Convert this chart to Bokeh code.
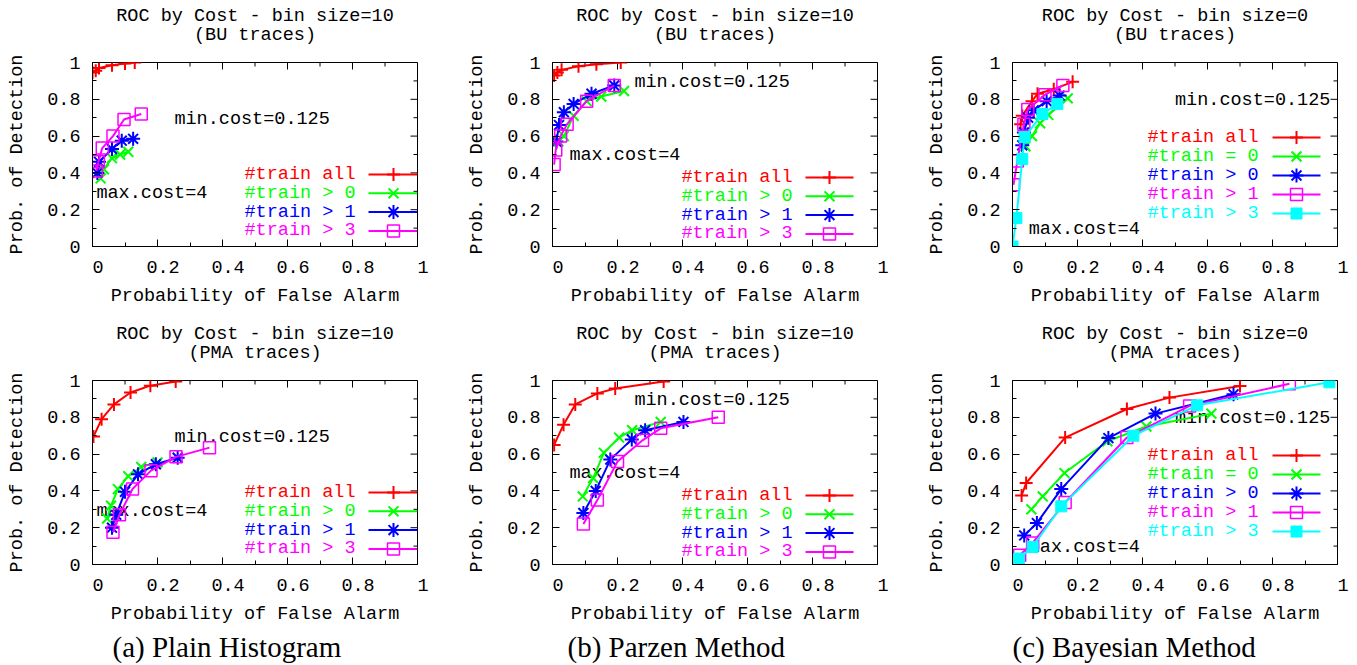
from bokeh.plotting import figure
from bokeh.layouts import column, row
from bokeh.models import Range1d, FixedTicker, CustomJSTickFormatter, Title, ColumnDataSource
from bokeh.core.properties import value
from bokeh.embed import file_html
from bokeh.resources import INLINE

# ---------------- data ----------------
# (a) Plain Histogram, BU traces
a_bu_all_x = [0.0, 0.01, 0.02, 0.06, 0.10, 0.13]
a_bu_all_y = [0.945, 0.955, 0.97, 0.985, 0.995, 1.0]
a_bu_gt0_x = [0.025, 0.035, 0.06, 0.085, 0.11]
a_bu_gt0_y = [0.37, 0.42, 0.48, 0.50, 0.515]
a_bu_gt1_x = [0.015, 0.02, 0.06, 0.09, 0.125]
a_bu_gt1_y = [0.40, 0.46, 0.53, 0.575, 0.585]
a_bu_gt3_x = [0.012, 0.018, 0.03, 0.063, 0.097, 0.15]
a_bu_gt3_y = [0.41, 0.46, 0.535, 0.60, 0.69, 0.72]
# (a) Plain Histogram, PMA traces
a_pma_all_x = [0.003, 0.028, 0.066, 0.117, 0.178, 0.256]
a_pma_all_y = [0.695, 0.79, 0.87, 0.935, 0.972, 0.995]
a_pma_gt0_x = [0.045, 0.057, 0.078, 0.11, 0.15, 0.2]
a_pma_gt0_y = [0.25, 0.32, 0.41, 0.48, 0.53, 0.555]
a_pma_gt1_x = [0.06, 0.073, 0.1, 0.14, 0.195, 0.262]
a_pma_gt1_y = [0.20, 0.27, 0.395, 0.49, 0.545, 0.58]
a_pma_gt3_x = [0.063, 0.083, 0.123, 0.18, 0.257, 0.36]
a_pma_gt3_y = [0.175, 0.27, 0.41, 0.51, 0.585, 0.635]
# (b) Parzen Method, BU traces
b_bu_all_x = [0.005, 0.015, 0.028, 0.08, 0.135, 0.21]
b_bu_all_y = [0.93, 0.945, 0.96, 0.98, 0.99, 1.0]
b_bu_gt0_x = [0.018, 0.035, 0.065, 0.105, 0.15, 0.22]
b_bu_gt0_y = [0.57, 0.60, 0.71, 0.79, 0.815, 0.845]
b_bu_gt1_x = [0.012, 0.02, 0.035, 0.065, 0.12, 0.19]
b_bu_gt1_y = [0.57, 0.66, 0.73, 0.775, 0.83, 0.875]
b_bu_gt3_x = [0.005, 0.01, 0.025, 0.045, 0.105, 0.19]
b_bu_gt3_y = [0.445, 0.525, 0.60, 0.665, 0.79, 0.875]
# (b) Parzen Method, PMA traces
b_pma_all_x = [0.005, 0.034, 0.07, 0.138, 0.193, 0.342]
b_pma_all_y = [0.65, 0.76, 0.87, 0.93, 0.957, 0.995]
b_pma_gt0_x = [0.093, 0.125, 0.158, 0.205, 0.245, 0.333]
b_pma_gt0_y = [0.37, 0.47, 0.607, 0.69, 0.73, 0.775]
b_pma_gt1_x = [0.095, 0.133, 0.178, 0.244, 0.285, 0.403]
b_pma_gt1_y = [0.28, 0.40, 0.57, 0.68, 0.73, 0.775]
b_pma_gt3_x = [0.095, 0.138, 0.2, 0.277, 0.333, 0.51]
b_pma_gt3_y = [0.22, 0.35, 0.56, 0.675, 0.74, 0.80]
# (c) Bayesian Method, BU traces
c_bu_all_x = [0.025, 0.03, 0.06, 0.077, 0.127, 0.185]
c_bu_all_y = [0.665, 0.71, 0.79, 0.83, 0.855, 0.895]
c_bu_eq0_x = [0.04, 0.06, 0.085, 0.11, 0.17]
c_bu_eq0_y = [0.545, 0.60, 0.67, 0.715, 0.805]
c_bu_gt0_x = [0.03, 0.035, 0.048, 0.065, 0.105, 0.145]
c_bu_gt0_y = [0.55, 0.62, 0.70, 0.74, 0.79, 0.82]
c_bu_gt1_x = [0.003, 0.015, 0.035, 0.047, 0.1, 0.155]
c_bu_gt1_y = [0.335, 0.465, 0.665, 0.745, 0.825, 0.875]
c_bu_gt3_x = [0.0, 0.012, 0.03, 0.037, 0.092, 0.138]
c_bu_gt3_y = [0.0, 0.155, 0.475, 0.595, 0.72, 0.775]
# (c) Bayesian Method, PMA traces
c_pma_all_x = [0.028, 0.042, 0.162, 0.352, 0.483, 0.70]
c_pma_all_y = [0.375, 0.443, 0.69, 0.845, 0.907, 0.97]
c_pma_eq0_x = [0.058, 0.093, 0.16, 0.292, 0.412, 0.612]
c_pma_eq0_y = [0.30, 0.37, 0.497, 0.67, 0.75, 0.82]
c_pma_gt0_x = [0.036, 0.075, 0.15, 0.295, 0.44, 0.68]
c_pma_gt0_y = [0.158, 0.225, 0.41, 0.687, 0.82, 0.925]
c_pma_gt1_x = [0.022, 0.062, 0.162, 0.352, 0.545, 0.852]
c_pma_gt1_y = [0.05, 0.117, 0.337, 0.69, 0.862, 0.982]
c_pma_gt3_x = [0.02, 0.062, 0.15, 0.372, 0.568, 0.975]
c_pma_gt3_y = [0.032, 0.095, 0.316, 0.70, 0.865, 0.99]

legend_ab = ["#train all", "#train > 0", "#train > 1", "#train > 3"]
legend_c = ["#train all", "#train = 0", "#train > 0", "#train > 1", "#train > 3"]
titles = ["ROC by Cost - bin size=10", "ROC by Cost - bin size=10", "ROC by Cost - bin size=0"]
subtitles = ["(BU traces)", "(PMA traces)"]
captions = ["(a) Plain Histogram", "(b) Parzen Method", "(c) Bayesian Method"]
min_cost_text = "min.cost=0.125"
max_cost_text = "max.cost=4"
x_label = "Probability of False Alarm"
y_label = "Prob. of Detection"
major_ticks = [0, 0.2, 0.4, 0.6, 0.8, 1]
minor_ticks = [0.1, 0.3, 0.5, 0.7, 0.9]

# ---------------- styles / layout ----------------
MONO = "Liberation Mono"
SERIF = "Liberation Serif"
FS = "18.5px"
FRAME_W, FRAME_H = 325, 184
MAJ_LEN, MIN_LEN = 7, 4
STRIP_H = 52          # height of the title strip above each plot
PLOT_TOP = 10         # border above each frame inside the plot figure
TITLE_ROWS = (16, 35) # title line centres, pixels from the top of the strip region

STY_ALL = dict(color="#ff0000", marker="cross", size=13, lw=2, fill=None)
STY_X = dict(color="#00ff00", marker="x", size=14, lw=2, fill=None)
STY_STAR = dict(color="#0000ff", marker="asterisk", size=14, lw=2, fill=None)
STY_OSQ = dict(color="#ff00ff", marker="square", size=12, lw=1.5, fill=None)
STY_FSQ = dict(color="#00ffff", marker="square", size=11, lw=1, fill="#00ffff")
styles_ab = [STY_ALL, STY_X, STY_STAR, STY_OSQ]
styles_c = [STY_ALL, STY_X, STY_STAR, STY_OSQ, STY_FSQ]

# legend geometry (pixels from frame left / frame top)
LEG = {
    "a": dict(text_right=263, l0=276, l1=325, mk=301, row0=112, step=18.8),
    "b": dict(text_right=240, l0=253, l1=301, mk=277, row0=115, step=18.8),
    "c": dict(text_right=246, l0=260, l1=308, mk=284, row0=75, step=19.0),
}
# annotation text positions (data coords)
ANN = {
    "a": dict(mn=(0.252, 0.69), mx=(0.012, 0.29)),
    "b": dict(mn=(0.252, 0.89), mx=(0.052, 0.493)),
    "c": dict(mn=(0.50, 0.793), mx=(0.05, 0.09)),
}
CAP_OFFSET = {"a": 20, "b": 15, "c": 0}


def style_axis(ax, shift_labels):
    ax.ticker = FixedTicker(ticks=major_ticks, minor_ticks=minor_ticks)
    ax.major_tick_in = MAJ_LEN
    ax.major_tick_out = 0
    ax.minor_tick_in = MIN_LEN
    ax.minor_tick_out = 0
    ax.axis_line_color = "black"
    ax.major_tick_line_color = "black"
    ax.minor_tick_line_color = "black"
    if shift_labels:
        ax.formatter = CustomJSTickFormatter(code="return '\\u00a0' + tick.toString();")
    else:
        ax.formatter = CustomJSTickFormatter(code="return tick.toString();")
    ax.major_label_text_font = MONO
    ax.major_label_text_font_size = FS
    ax.major_label_text_color = "black"
    ax.axis_label_text_font = MONO
    ax.axis_label_text_font_size = FS
    ax.axis_label_text_font_style = "normal"
    ax.axis_label_text_color = "black"


def make_strip(width, left, title, subtitle):
    s = figure(frame_width=width, frame_height=STRIP_H, x_range=Range1d(0, width),
               y_range=Range1d(0, STRIP_H), output_backend="svg", toolbar_location=None,
               x_axis_location=None, y_axis_location=None, min_border=0)
    s.outline_line_color = None
    s.background_fill_color = "white"
    s.border_fill_color = "white"
    s.grid.visible = False
    cx = left + FRAME_W / 2
    s.text(x=[cx, cx], y=[STRIP_H - TITLE_ROWS[0], STRIP_H - TITLE_ROWS[1]],
           text=[title, subtitle], text_font=value(MONO), text_font_size=value(FS),
           text_color="black", text_align="center", text_baseline="middle")
    return s


def make_panel(col, series, styles, labels, left, right, bottom, caption=None):
    p = figure(frame_width=FRAME_W, frame_height=FRAME_H, x_range=Range1d(0, 1), y_range=Range1d(0, 1),
               output_backend="svg", toolbar_location=None,
               min_border_left=left, min_border_right=right,
               min_border_top=PLOT_TOP, min_border_bottom=bottom)
    p.background_fill_color = "white"
    p.border_fill_color = "white"
    p.outline_line_color = "black"
    p.outline_line_width = 1
    p.outline_line_alpha = 1
    p.xgrid.visible = False
    p.ygrid.visible = False

    style_axis(p.xaxis[0], True)
    style_axis(p.yaxis[0], False)
    p.xaxis.axis_label = x_label
    p.yaxis.axis_label = y_label
    p.xaxis.major_label_standoff = 11
    p.xaxis.axis_label_standoff = 4
    p.yaxis.major_label_standoff = 12
    p.yaxis.axis_label_standoff = 16

    # mirrored inward ticks on the top and right frame edges
    p.segment(x0=major_ticks, y0=[1] * len(major_ticks), x1=major_ticks,
              y1=[1 - MAJ_LEN / FRAME_H] * len(major_ticks), line_color="black", line_width=1)
    p.segment(x0=minor_ticks, y0=[1] * len(minor_ticks), x1=minor_ticks,
              y1=[1 - MIN_LEN / FRAME_H] * len(minor_ticks), line_color="black", line_width=1)
    p.segment(x0=[1] * len(major_ticks), y0=major_ticks, x1=[1 - MAJ_LEN / FRAME_W] * len(major_ticks),
              y1=major_ticks, line_color="black", line_width=1)
    p.segment(x0=[1] * len(minor_ticks), y0=minor_ticks, x1=[1 - MIN_LEN / FRAME_W] * len(minor_ticks),
              y1=minor_ticks, line_color="black", line_width=1)

    # annotation texts (drawn beneath the curves)
    ann = ANN[col]
    p.text(x=[ann["mn"][0], ann["mx"][0]], y=[ann["mn"][1], ann["mx"][1]],
           text=[min_cost_text, max_cost_text], text_font=value(MONO),
           text_font_size=value(FS), text_color="black",
           text_align="left", text_baseline="middle")

    for (xs, ys), st in zip(series, styles):
        src = ColumnDataSource(dict(x=xs, y=ys))
        p.line("x", "y", source=src, line_color=st["color"], line_width=2)
        p.scatter("x", "y", source=src, marker=st["marker"], size=st["size"],
                  line_color=st["color"], line_width=st["lw"],
                  fill_color=st["fill"], fill_alpha=1 if st["fill"] else 0)

    # key (gnuplot style: text right-aligned, sample on the right)
    lg = LEG[col]
    for i, (lab, st) in enumerate(zip(labels, styles)):
        yy = 1 - (lg["row0"] + lg["step"] * i) / FRAME_H
        p.text(x=[lg["text_right"] / FRAME_W], y=[yy], text=[lab],
               text_font=value(MONO), text_font_size=value(FS),
               text_color=st["color"], text_align="right", text_baseline="middle")
        p.line(x=[lg["l0"] / FRAME_W, lg["l1"] / FRAME_W], y=[yy, yy],
               line_color=st["color"], line_width=2)
        p.scatter(x=[lg["mk"] / FRAME_W], y=[yy], marker=st["marker"], size=st["size"],
                  line_color=st["color"], line_width=st["lw"],
                  fill_color=st["fill"], fill_alpha=1 if st["fill"] else 0)

    if caption is not None:
        p.add_layout(Title(text=caption, align="left", offset=CAP_OFFSET[col],
                           text_font=SERIF, text_font_size="29px", text_font_style="normal",
                           text_color="black", standoff=3), "below")
    return p


panels_top = [
    ("a", [(a_bu_all_x, a_bu_all_y), (a_bu_gt0_x, a_bu_gt0_y), (a_bu_gt1_x, a_bu_gt1_y), (a_bu_gt3_x, a_bu_gt3_y)], styles_ab, legend_ab),
    ("b", [(b_bu_all_x, b_bu_all_y), (b_bu_gt0_x, b_bu_gt0_y), (b_bu_gt1_x, b_bu_gt1_y), (b_bu_gt3_x, b_bu_gt3_y)], styles_ab, legend_ab),
    ("c", [(c_bu_all_x, c_bu_all_y), (c_bu_eq0_x, c_bu_eq0_y), (c_bu_gt0_x, c_bu_gt0_y), (c_bu_gt1_x, c_bu_gt1_y), (c_bu_gt3_x, c_bu_gt3_y)], styles_c, legend_c),
]
panels_bot = [
    ("a", [(a_pma_all_x, a_pma_all_y), (a_pma_gt0_x, a_pma_gt0_y), (a_pma_gt1_x, a_pma_gt1_y), (a_pma_gt3_x, a_pma_gt3_y)], styles_ab, legend_ab),
    ("b", [(b_pma_all_x, b_pma_all_y), (b_pma_gt0_x, b_pma_gt0_y), (b_pma_gt1_x, b_pma_gt1_y), (b_pma_gt3_x, b_pma_gt3_y)], styles_ab, legend_ab),
    ("c", [(c_pma_all_x, c_pma_all_y), (c_pma_eq0_x, c_pma_eq0_y), (c_pma_gt0_x, c_pma_gt0_y), (c_pma_gt1_x, c_pma_gt1_y), (c_pma_gt3_x, c_pma_gt3_y)], styles_c, legend_c),
]
col_geom = [dict(left=92, right=43), dict(left=92, right=40), dict(left=95, right=18)]

strips_top, strips_bot, top_figs, bot_figs = [], [], [], []
for i in range(3):
    g = col_geom[i]
    w = g["left"] + FRAME_W + g["right"]
    strips_top.append(make_strip(w, g["left"], titles[i], subtitles[0]))
    strips_bot.append(make_strip(w, g["left"], titles[i], subtitles[1]))
    col, ser, sty, labs = panels_top[i]
    top_figs.append(make_panel(col, ser, sty, labs, g["left"], g["right"], 72))
    col, ser, sty, labs = panels_bot[i]
    bot_figs.append(make_panel(col, ser, sty, labs, g["left"], g["right"], 99, caption=captions[i]))

layout = column(row(*strips_top, spacing=0), row(*top_figs, spacing=0),
                row(*strips_bot, spacing=0), row(*bot_figs, spacing=0), spacing=0)
open("out.html", "w").write(file_html(layout, INLINE))
